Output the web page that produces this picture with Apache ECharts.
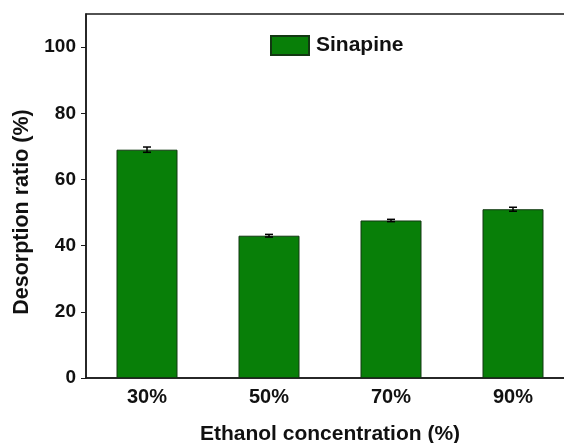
<!DOCTYPE html>
<html>
<head>
<meta charset="utf-8">
<script src="https://cdn.jsdelivr.net/npm/echarts@6/dist/echarts.min.js"></script>
<style>
html,body{margin:0;padding:0;background:#fff;}
#chart{width:564px;height:443px;}
</style>
</head>
<body>
<div id="chart"></div>
<script>
var categories = ['30%', '50%', '70%', '90%'];
var sinapine = [69.0, 43.0, 47.6, 51.0];
var sinapineErr = [0.8, 0.4, 0.35, 0.6];
var yTicks = [0, 20, 40, 60, 80, 100];

var FONT = '"Liberation Sans", Arial, Helvetica, sans-serif';
var chart = echarts.init(document.getElementById('chart'));

var errData = sinapine.map(function (v, i) { return [i, v - sinapineErr[i], v + sinapineErr[i]]; });

chart.setOption({
  backgroundColor: '#ffffff',
  animation: false,
  grid: {
    left: 86, top: 14, width: 488, height: 364,
    outerBoundsMode: 'none',
    containLabel: false,
    show: true, borderColor: '#1a1a1a', borderWidth: 1.5, backgroundColor: 'transparent'
  },
  legend: {
    left: 270, top: 35, padding: 0,
    itemWidth: 38, itemHeight: 19,
    data: [{ name: 'Sinapine', icon: 'rect' }],
    textStyle: { fontFamily: FONT, fontWeight: 'bold', fontSize: 21, color: '#111', padding: [0, 0, 0, 2] }
  },
  xAxis: {
    type: 'category',
    data: categories,
    boundaryGap: true,
    name: 'Ethanol concentration (%)',
    nameLocation: 'middle',
    nameGap: 46,
    nameTextStyle: { fontFamily: FONT, fontWeight: 'bold', fontSize: 21, color: '#111' },
    axisLine: { show: true, lineStyle: { color: '#1a1a1a', width: 1.5 } },
    axisTick: { show: false },
    axisLabel: { fontFamily: FONT, fontWeight: 'bold', fontSize: 20, color: '#111', margin: 9 },
    splitLine: { show: false }
  },
  yAxis: {
    type: 'value',
    min: 0, max: 110, interval: 20,
    name: 'Desorption ratio (%)',
    nameLocation: 'middle',
    nameGap: 48,
    nameRotate: 90,
    nameTextStyle: { fontFamily: FONT, fontWeight: 'bold', fontSize: 21.5, color: '#111', padding: [0, 32, 0, 0] },
    axisLine: { show: true, lineStyle: { color: '#1a1a1a', width: 1.5 } },
    axisTick: { show: true, inside: false, length: 5, customValues: yTicks, lineStyle: { color: '#1a1a1a', width: 1 } },
    axisLabel: {
      fontFamily: FONT, fontWeight: 'bold', fontSize: 19, color: '#111', margin: 10,
      customValues: yTicks
    },
    splitLine: { show: false }
  },
  series: [
    {
      name: 'Sinapine',
      type: 'bar',
      data: sinapine,
      barWidth: '50%',
      itemStyle: { color: '#087f08', borderColor: '#123812', borderWidth: 1 },
      z: 2
    },
    {
      name: 'err',
      type: 'custom',
      data: errData,
      z: 3,
      renderItem: function (params, api) {
        var i = api.value(0);
        var lo = api.coord([i, api.value(1)]);
        var hi = api.coord([i, api.value(2)]);
        var hw = 4;
        var style = { stroke: '#000', lineWidth: 1.5 };
        return {
          type: 'group',
          children: [
            { type: 'line', shape: { x1: lo[0], y1: lo[1], x2: hi[0], y2: hi[1] }, style: style },
            { type: 'line', shape: { x1: hi[0] - hw, y1: hi[1], x2: hi[0] + hw, y2: hi[1] }, style: style },
            { type: 'line', shape: { x1: lo[0] - hw, y1: lo[1], x2: lo[0] + hw, y2: lo[1] }, style: style }
          ]
        };
      }
    }
  ]
});
</script>
</body>
</html>
